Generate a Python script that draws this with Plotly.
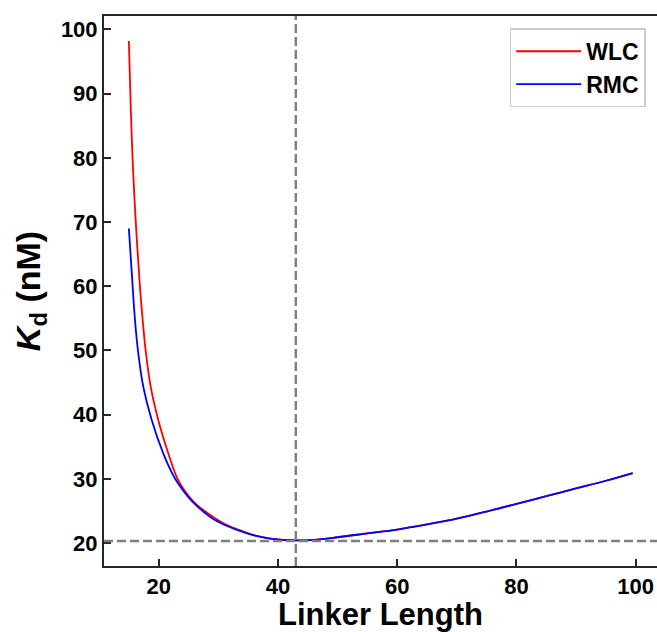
import plotly.graph_objects as go

# WLC model
wlc_length = [15.0, 15.6, 16.14, 16.86, 17.32, 17.87, 18.66, 19.93, 21.61, 23.12, 24.5, 26.0, 28.6,
              31.0, 33.6, 36.0, 38.7, 43.0, 46.0, 50.0, 55.0, 60.0, 65.0, 70.0, 75.0, 80.0, 85.0,
              90.0, 95.0, 99.5]
wlc_kd = [98.2, 80.4, 70.3, 59.9, 54.7, 49.55, 44.35, 39.16, 33.97, 30.08, 28.0, 26.3, 24.4,
          23.0, 22.0, 21.2, 20.7, 20.4, 20.5, 20.9, 21.5, 22.1, 22.9, 23.8, 24.9, 26.1, 27.3,
          28.5, 29.7, 30.9]

# RMC model
rmc_length = [15.0, 15.64, 16.03, 16.58, 17.42, 18.83, 20.77, 22.57, 24.0, 25.5, 28.6, 31.0,
              33.6, 36.0, 38.7, 43.0, 46.0, 50.0, 55.0, 60.0, 65.0, 70.0, 75.0, 80.0, 85.0,
              90.0, 95.0, 99.5]
rmc_kd = [69.0, 59.9, 54.7, 49.55, 44.35, 39.16, 33.97, 30.33, 28.3, 26.6, 24.1, 22.85,
          21.9, 21.2, 20.7, 20.4, 20.5, 20.9, 21.5, 22.1, 22.9, 23.8, 24.9, 26.1, 27.3,
          28.5, 29.7, 30.9]

opt_length = 43.0
kd_min = 20.3

x_ticks = [20, 40, 60, 80, 100]
y_ticks = [20, 30, 40, 50, 60, 70, 80, 90, 100]

FONT = "Liberation Sans, Arial, sans-serif"

fig = go.Figure()
fig.add_trace(go.Scatter(x=wlc_length, y=wlc_kd, mode="lines", name="WLC",
                         line=dict(color="#ff0000", width=1.8, shape="spline", smoothing=1.0)))
fig.add_trace(go.Scatter(x=rmc_length, y=rmc_kd, mode="lines", name="RMC",
                         line=dict(color="#0000ff", width=1.8, shape="spline", smoothing=1.0)))

fig.add_vline(x=opt_length, line=dict(color="#808080", width=2.5, dash="9px,4px"))
fig.add_hline(y=kd_min, line=dict(color="#808080", width=2.5, dash="9px,4px"))

axis_common = dict(
    showgrid=False, zeroline=False, showline=True, linecolor="#262626", linewidth=2,
    ticks="inside", ticklen=7, tickwidth=1.5, tickcolor="#262626", automargin=False,
    tickfont=dict(family=FONT, size=22, color="black", weight="bold"),
)

fig.update_xaxes(
    range=[10.83, 103.58], tickvals=x_ticks, mirror=True,
    title=dict(text="Linker Length", font=dict(family=FONT, size=31, color="black", weight="bold"),
               standoff=16),
    **axis_common,
)
fig.update_yaxes(
    range=[16.42, 102.1], tickvals=y_ticks, mirror=False,
    title=dict(text="<i>K</i><sub>d</sub> (nM)",
               font=dict(family=FONT, size=34, color="black", weight="bold"), standoff=10),
    **axis_common,
)

fig.update_layout(
    width=657, height=632,
    margin=dict(l=104, r=0, t=16, b=66),
    plot_bgcolor="white", paper_bgcolor="white",
    legend=dict(
        x=0.9796, y=0.9776, xanchor="right", yanchor="top",
        bgcolor="white", bordercolor="#cccccc", borderwidth=1.5,
        font=dict(family=FONT, size=23, color="black", weight="bold"),
        itemwidth=65, tracegroupgap=0,
    ),
)

# drop the default 8px body margin so the figure sits flush in the window
fig.write_html("out.html", config={"displayModeBar": False},
               post_script="document.body.style.margin = '0';")
